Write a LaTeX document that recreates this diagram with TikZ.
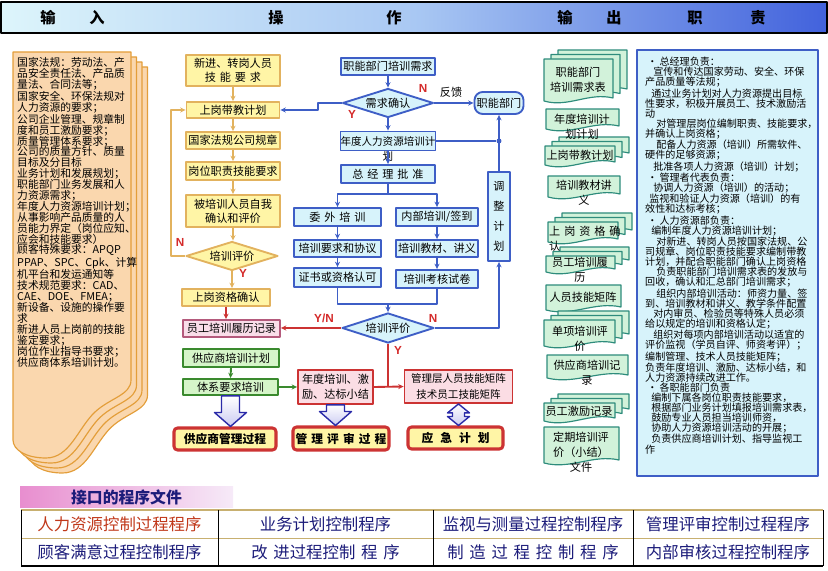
\documentclass[tikz,border=0pt]{standalone}
\usepackage{fontspec}
\setmainfont{Noto Sans CJK SC}
\newfontfamily\latinbold{Liberation Sans}
\usetikzlibrary{arrows.meta,calc,shapes.geometric}

\definecolor{hdL}{HTML}{DDF5FB}
\definecolor{hdM}{HTML}{A9C8F3}
\definecolor{hdR}{HTML}{4262DC}
\definecolor{yelF}{HTML}{FFF5A6}
\definecolor{yelD}{HTML}{E2B25E}
\definecolor{bluF}{HTML}{D7F3FB}
\definecolor{bluD}{HTML}{3E5EC6}
\definecolor{pnkF}{HTML}{F9DDE9}
\definecolor{pnkD}{HTML}{B45A7C}
\definecolor{grnF}{HTML}{D6F5C9}
\definecolor{grnD}{HTML}{3A8A2E}
\definecolor{redD}{HTML}{CC3333}
\definecolor{redF}{HTML}{FBDDE4}
\definecolor{docF}{HTML}{D2F2DA}
\definecolor{docD}{HTML}{2E8C7C}
\definecolor{inF}{HTML}{FAD7AE}
\definecolor{inD}{HTML}{E39E3A}
\definecolor{arrD}{HTML}{2A2AA8}
\definecolor{navy}{HTML}{1C1C7A}
\definecolor{brick}{HTML}{C0381A}
\definecolor{flagR}{HTML}{D42A2A}
\definecolor{lblL}{HTML}{E88ECF}
\definecolor{lblR}{HTML}{F6EAF8}
\definecolor{tabT}{HTML}{C8B070}

\tikzset{wh/.style 2 args={minimum width=#1*0.03cm, minimum height=#2*0.03cm}}

\newcommand{\wsp}{\hspace{.35em}}
\newcommand{\ind}[1]{\hspace*{#1em}}

% output document: straight top, wavy bottom
\newcommand{\docpage}[4]{%
  \filldraw[doc] ({#1},{#2}) -- ({#1},{#4})
    .. controls ({(#1)+0.35*((#3)-(#1))},{(#4)+7}) and ({(#1)+0.65*((#3)-(#1))},{(#4)-9}) .. ({#3},{(#4)-3})
    -- ({#3},{#2}) -- cycle;}
\newcommand{\docstack}[4]{%
  \docpage{(#1)+14}{(#2)-9}{(#3)+14}{(#4)-9}%
  \docpage{(#1)+7}{(#2)-4.5}{(#3)+7}{(#4)-4.5}%
  \docpage{#1}{#2}{#3}{#4}}

% input sheet with wavy lower edge, shifted by (#1,#2)
\newcommand{\inpage}[2]{%
  \filldraw[inpage, shift={(#1,#2)}] (13,52) -- (131,52) -- (131,380)
    .. controls (131,395) and (110,398) .. (95,412)
    .. controls (78,428) and (70,458) .. (46,458)
    .. controls (26,458) and (13,450) .. (13,440) -- cycle;}

% block arrows between boxes
\newcommand{\bigdown}[2]{%
  \draw[bigarrow] ($(#1)+(-9,0)$) -- ($(#1)+(9,0)$) -- ($(#1 |- #2)+(9,-14)$)
    -- ($(#1 |- #2)+(16,-14)$) -- (#1 |- #2) -- ($(#1 |- #2)+(-16,-14)$)
    -- ($(#1 |- #2)+(-9,-14)$) -- cycle;}
\newcommand{\bigboth}[2]{%
  \draw[bigarrow] (#1) -- ($(#1)+(11,9)$) -- ($(#1)+(6,9)$) -- ($(#1 |- #2)+(6,-9)$)
    -- ($(#1 |- #2)+(11,-9)$) -- (#1 |- #2) -- ($(#1 |- #2)+(-11,-9)$)
    -- ($(#1 |- #2)+(-6,-9)$) -- ($(#1)+(-6,9)$) -- ($(#1)+(-11,9)$) -- cycle;}

\begin{document}
\begin{tikzpicture}[
    x=0.03cm, y=-0.03cm,
    line join=round,
    flow/.style={draw, line width=1.6pt, inner sep=0pt, align=center,
      font=\fontsize{9.5}{12}\selectfont},
    yellowbox/.style={flow, draw=yelD, fill=yelF},
    bluebox/.style={flow, draw=bluD, fill=bluF},
    pinkbox/.style={flow, draw=pnkD, fill=pnkF},
    greenbox/.style={flow, draw=grnD, fill=grnF},
    redbox/.style={flow, draw=redD, fill=redF},
    endbox/.style={flow, draw=redD, fill=yelF, line width=2.6pt, rounded corners=3pt,
      font=\fontsize{10}{12}\selectfont\bfseries},
    decision/.style={diamond, aspect=3.2},
    tipped/.style={-{Stealth[length=1.6mm, width=1.5mm]}},
    tanline/.style={draw=yelD, line width=1.6pt},
    blueline/.style={draw=bluD, line width=1.6pt},
    redline/.style={draw=redD, line width=1.6pt},
    greenline/.style={draw=grnD, line width=1.6pt},
    flag/.style={text=flagR, inner sep=0pt, font=\latinbold\fontsize{10}{10}\selectfont\bfseries},
    doc/.style={fill=docF, draw=docD, line width=1pt},
    doctext/.style={align=center, inner sep=0pt, font=\fontsize{9.5}{13}\selectfont},
    inpage/.style={fill=inF, draw=inD, line width=1pt},
    bigarrow/.style={draw=arrD, line width=1.2pt, top color=white, bottom color=black!25!blue!20},
    headtxt/.style={inner sep=0pt, font=\fontsize{13}{13}\selectfont\bfseries},
    celltxt/.style={inner sep=0pt, text=navy, font=\fontsize{14}{14}\selectfont},
  ]
\useasboundingbox (0,0) rectangle (828,571);

% ============================================================
% HEADER BAR
% ============================================================
\shade[left color=hdL, right color=hdR, middle color=hdM] (1,2) rectangle (827,33);
\draw[line width=1.2pt] (1,2) rectangle (827,33);
\node[headtxt] (h1) at (48,17.5) {输};
\node[headtxt] (h2) at (97,17.5) {入};
\node[headtxt] (h3) at (276,17.5) {操};
\node[headtxt] (h4) at (394,17.5) {作};
\node[headtxt] (h5) at (565,17.5) {输};
\node[headtxt] (h6) at (614,17.5) {出};
\node[headtxt] (h7) at (695,17.5) {职};
\node[headtxt] (h8) at (758,17.5) {责};

% ============================================================
% INPUT STACK (left)
% ============================================================
\inpage{16.5}{15}
\inpage{11}{10}
\inpage{5.5}{5}
\inpage{0}{0}

\node[anchor=north west, inner sep=0pt, align=left,
  font=\fontsize{9.2}{9.3}\selectfont] (intext) at (17,57)
  {国家法规：劳动法、产\\
   品安全责任法、产品质\\
   量法、合同法等；\\
   国家安全、环保法规对\\
   人力资源的要求；\\
   公司企业管理、规章制\\
   度和员工激励要求；\\
   质量管理体系要求；\\
   公司的质量方针、质量\\
   目标及分目标\\
   业务计划和发展规划；\\
   职能部门业务发展和人\\
   力资源需求；\\
   年度人力资源培训计划；\\
   从事影响产品质量的人\\
   员能力界定（岗位应知、\\
   应会和技能要求）\\
   顾客特殊要求：APQP\\
   PPAP、SPC、Cpk、计算\\
   机平台和发运通知等\\
   技术规范要求：CAD、\\
   CAE、DOE、FMEA；\\
   新设备、设施的操作要\\
   求\\
   新进人员上岗前的技能\\
   鉴定要求；\\
   岗位作业指导书要求；\\
   供应商体系培训计划。};

% ============================================================
% YELLOW / GREEN COLUMN
% ============================================================
\node[yellowbox, wh={94}{31}] (Y1) at (233,70.5) {新进、转岗人员\\技\wsp{}能\wsp{}要\wsp{}求};
\node[yellowbox, wh={93}{16}] (Y2) at (233,110) {上岗带教计划};
\node[yellowbox, wh={94}{17}] (Y3) at (233,140.5) {国家法规公司规章};
\node[yellowbox, wh={94}{18}] (Y4) at (233,171) {岗位职责技能要求};
\node[yellowbox, wh={94}{32}] (Y5) at (233,211) {被培训人员自我\\确认和评价};
\node[yellowbox, decision, wh={92}{29}] (D1) at (232,256) {培训评价};
\node[yellowbox, wh={88}{17}] (Y6) at (226,297.5) {上岗资格确认};
\node[pinkbox, wh={97}{17}] (P1) at (231.5,328.5) {员工培训履历记录};
\node[greenbox, wh={96}{18}] (G1) at (231,358) {供应商培训计划};
\node[greenbox, wh={95}{16}] (G2) at (230.5,387) {体系要求培训};
\node[endbox, wh={102}{22}] (E1) at (225,439) {供应商管理过程};

\draw[tanline, tipped] (Y1.south) -- (Y2.north);
\draw[tanline, tipped] (Y2.south) -- (Y3.north);
\draw[tanline, tipped] (Y3.south) -- (Y4.north);
\draw[tanline, tipped] (Y4.south) -- (Y5.north);
\draw[tanline, tipped] (Y5.south) -- (Y5.south |- D1.north);
\draw[tanline, tipped] (D1.south) -- (D1.south |- Y6.north);
\draw[tanline, tipped] (D1.west) -- ++(-14,0) |- (Y2.west);
\draw[redline, tipped] (Y6.south) -- (Y6.south |- P1.north);
\draw[greenline, tipped] (G1.south) -- (G2.north);

\node[flag] (nD1) at (180,242) {N};
\node[flag] (yD1) at (243,273) {Y};

% ============================================================
% BLUE COLUMN
% ============================================================
\node[bluebox, wh={94}{17}] (B1) at (388,66.5) {职能部门培训需求};
\node[bluebox, decision, wh={91}{29}] (D2) at (388,103) {需求确认};
\node[bluebox, wh={49}{22}, rounded corners=7pt] (B2) at (499,103) {职能部门};
\node[bluebox, wh={94}{19}, font=\fontsize{9}{12}\selectfont,
  label={[inner sep=0pt, font=\fontsize{9}{12}\selectfont]below:划}] (B3) at (388,141) {年度人力资源培训计};
\node[bluebox, wh={94}{18}] (B4) at (388,174) {总\wsp{}经\wsp{}理\wsp{}批\wsp{}准};
\node[bluebox, wh={87}{18}] (B5) at (337.5,217) {委\wsp{}外\wsp{}培\wsp{}训};
\node[bluebox, wh={82}{18}] (B6) at (437,217) {内部培训/签到};
\node[bluebox, wh={87}{17}] (B7) at (337.5,248.5) {培训要求和协议};
\node[bluebox, wh={82}{17}] (B8) at (437,248.5) {培训教材、讲义};
\node[bluebox, wh={87}{19}] (B9) at (337.5,277.5) {证书或资格认可};
\node[bluebox, wh={82}{18}] (B10) at (437,279) {培训考核试卷};
\node[bluebox, decision, wh={92}{30}] (D3) at (388,328) {培训评价};
\node[bluebox, wh={22}{89}, font=\fontsize{9.5}{17}\selectfont] (B11) at (499,216.5) {调\\整\\计\\划};

\coordinate (kink) at (318,110);
\coordinate (fork) at ($(B4.south)+(0,10)$);
\coordinate (merge) at (388,304);

\draw[blueline, tipped] (B1.south) -- (D2.north);
\draw[blueline, tipped] (D2.east) -- (B2.west);
\draw[blueline, tipped] (D2.west) -| (kink) -- (Y2.east);
\draw[blueline, tipped] (D2.south) -- (B3.north);
\draw[blueline, tipped] (B3.south) -- (B4.north);
\draw[blueline] (B4.south) -- (fork);
\draw[blueline, tipped] (fork) -| (B5.north);
\draw[blueline, tipped] (fork) -| (B6.north);
\draw[blueline, tipped] (B5.south) -- (B7.north);
\draw[blueline, tipped] (B7.south) -- (B9.north);
\draw[blueline, tipped] (B6.south) -- (B8.north);
\draw[blueline, tipped] (B8.south) -- (B10.north);
\draw[blueline] (B9.south) |- (merge) -| (B10.south);
\draw[blueline, tipped] (merge) -- (D3.north);
\draw[blueline, tipped] (D3.east) -| (B11.south);
\draw[blueline, tipped] (B11.north) -- (B2.south);
\node[circle, fill=bluD, inner sep=1.5pt] (jn) at (B3.east -| B11.north) {};
\draw[blueline] (B3.east) -- (jn);

\node[flag] (nD2) at (423,88) {N};
\node[inner sep=0pt, font=\fontsize{9.5}{12}\selectfont] (fb) at (451,92) {反馈};
\node[flag] (yD2) at (352,114) {Y};
\node[flag] (ynD3) at (324,318) {Y/N};
\node[flag] (nD3) at (433,318) {N};
\node[flag] (yD3) at (398,350) {Y};

% ============================================================
% RESULT BOXES (bottom)
% ============================================================
\node[redbox, wh={75}{34}, font=\fontsize{9.5}{12.5}\selectfont] (R1) at (335.5,387) {年度培训、激\\励、达标小结};
\node[redbox, wh={108}{33}, font=\fontsize{9}{14}\selectfont] (R2) at (458.5,386.5) {管理层人员技能矩阵\\技术员工技能矩阵};
\node[endbox, wh={96}{23}] (E2) at (341,438.5) {管\wsp{}理\wsp{}评\wsp{}审\wsp{}过\wsp{}程};
\node[endbox, wh={95}{22}] (E3) at (455.5,438) {应\hspace{.6em}急\hspace{.6em}计\hspace{.6em}划};

\draw[redline, tipped] (D3.west) -- (D3.west -| P1.east);
\draw[redline] (D3.south) -- (D3.south |- R1.east);
\draw[redline, tipped] (R1.east) -- (R2.west);
\draw[greenline, tipped] (G2.east) -- (G2.east -| R1.west);

\bigdown{G2.south}{E1.north}
\bigdown{R1.south}{E2.north}
\bigboth{R2.south}{E3.north}

% ============================================================
% OUTPUT DOCUMENTS
% ============================================================
\docstack{544}{59}{613}{101}
\docpage{546}{109}{619}{129}
\docstack{545}{146}{615}{165}
\docpage{548}{176}{620}{197}
\docstack{548}{222}{618}{242}
\docstack{546}{256}{615}{272}
\docpage{546}{285}{621}{310}
\docstack{544}{320}{615}{346}
\docpage{547}{355}{628}{378}
\docstack{544}{403}{615}{421}
\docpage{544}{427}{619}{463}

\node[doctext] (o1) at (578,80) {职能部门\\培训需求表};
\node[doctext] (o2) at (582,126.5) {年度培训计\\划计划};
\node[doctext] (o3) at (580,155) {上岗带教计划};
\node[doctext] (o4) at (584,193) {培训教材讲\\义};
\node[doctext, align=left, anchor=west] (o5) at (549,239) {上\wsp{}岗\wsp{}资\wsp{}格\wsp{}确\\认};
\node[doctext] (o6) at (580,270) {员工培训履\\历};
\node[doctext] (o7) at (583,297) {人员技能矩阵};
\node[doctext] (o8) at (580,339) {单项培训评\\价};
\node[doctext] (o9) at (587,373) {供应商培训记\\录};
\node[doctext] (o10) at (579,411) {员工激励记录};
\node[doctext] (o11) at (581,452) {定期培训评\\价（小结）\\文件};

% ============================================================
% RESPONSIBILITIES (right)
% ============================================================
\draw[fill=bluF, draw=bluD, line width=2pt] (637,50) rectangle (818,476);
\node[anchor=north west, inner sep=0pt, align=left,
  font=\fontsize{8.6}{8.58}\selectfont] (resp) at (645,57)
  {\ind{.2}• 总经理负责：\\
   \ind{.8}宣传和传达国家劳动、安全、环保\\
   产品质量等法规；\\
   \ind{.6}通过业务计划对人力资源提出目标\\
   性要求，积极开展员工、技术激励活\\
   动\\
   \ind{1.1}对管理层岗位编制职责、技能要求，\\
   并确认上岗资格；\\
   \ind{1.1}配备人力资源（培训）所需软件、\\
   硬件的足够资源；\\
   \ind{.8}批准各项人力资源（培训）计划；\\
   \ind{.2}• 管理者代表负责：\\
   \ind{.8}协调人力资源（培训）的活动；\\
   \ind{.4}监视和验证人力资源（培训）的有\\
   效性和达标考核；\\
   \ind{.2}• 人力资源部负责：\\
   \ind{.6}编制年度人力资源培训计划；\\
   \ind{1.1}对新进、转岗人员按国家法规、公\\
   司规章、岗位职责技能要求编制带教\\
   计划，并配合职能部门确认上岗资格\\
   \ind{1.1}负责职能部门培训需求表的发放与\\
   回收，确认和汇总部门培训需求；\\
   \ind{1.1}组织内部培训活动：师资力量、签\\
   到、培训教材和讲义、教学条件配置\\
   \ind{.8}对内审员、检验员等特殊人员必须\\
   给以规定的培训和资格认定；\\
   \ind{.8}组织对每项内部培训活动以适宜的\\
   评价监视（学员自评、师资考评）；\\
   编制管理、技术人员技能矩阵；\\
   负责年度培训、激励、达标小结，和\\
   人力资源持续改进工作。\\
   \ind{.2}• 各职能部门负责\\
   \ind{.6}编制下属各岗位职责技能要求，\\
   \ind{.6}根据部门业务计划填报培训需求表，\\
   \ind{.6}鼓励专业人员担当培训师资，\\
   \ind{.6}协助人力资源培训活动的开展；\\
   \ind{.6}负责供应商培训计划、指导监视工\\
   作};

% ============================================================
% INTERFACE PROCEDURES TABLE
% ============================================================
\node[wh={213}{21}, left color=lblL, right color=lblR, inner sep=0pt, text=navy,
  font=\fontsize{13.5}{13.5}\selectfont\bfseries] (iface) at (126.5,497) {接口的程序文件};

\draw[draw=tabT, line width=1.5pt] (21,510) -- (823,510);
\draw[draw=tabT, line width=0.8pt] (21,538) -- (823,538);
\draw[line width=1.2pt] (21,566) -- (823,566);
\draw[line width=0.8pt] (21,510) -- (21,566) (218,510) -- (218,566)
  (433,510) -- (433,566) (633,510) -- (633,566) (823,510) -- (823,566);

\node[celltxt, text=brick] (t11) at (119.5,524) {人力资源控制过程程序};
\node[celltxt] (t12) at (325.5,524) {业务计划控制程序};
\node[celltxt] (t13) at (533,524) {监视与测量过程控制程序};
\node[celltxt] (t14) at (728,524) {管理评审控制过程程序};
\node[celltxt] (t21) at (119.5,552) {顾客满意过程控制程序};
\node[celltxt] (t22) at (325.5,552) {改\wsp{}进过程控制\wsp{}程\wsp{}序};
\node[celltxt] (t23) at (533,552) {制\wsp{}造\wsp{}过\wsp{}程\wsp{}控\wsp{}制\wsp{}程\wsp{}序};
\node[celltxt] (t24) at (728,552) {内部审核过程控制程序};

\end{tikzpicture}
\end{document}
